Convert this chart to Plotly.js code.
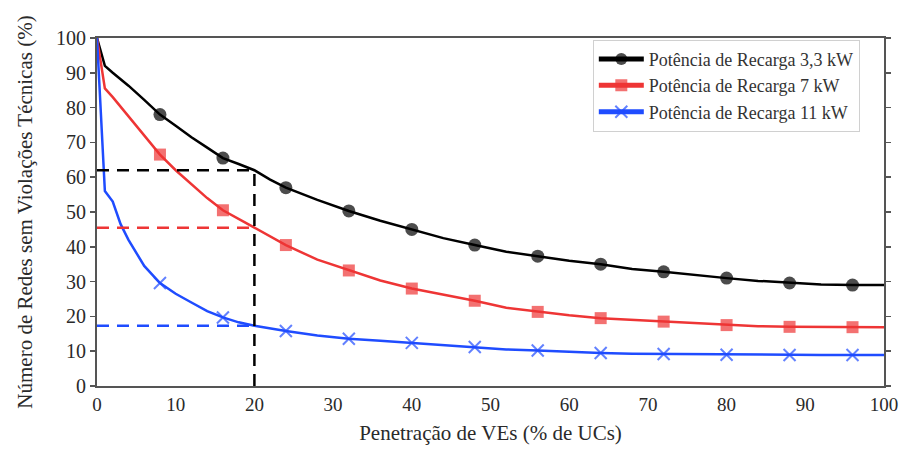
<!DOCTYPE html>
<html>
<head>
<meta charset="utf-8">
<script src="https://cdn.plot.ly/plotly-3.0.1.min.js"></script>
<style>html,body{margin:0;padding:0;background:#fff;}#chart{width:904px;height:449px;}</style>
</head>
<body>
<div id="chart"></div>
<script>
// Penetração de VEs (% de UCs)
const penetracao = [0, 1, 2, 3, 4, 6, 8, 10, 12, 14, 16, 18, 20, 22, 24, 28, 32, 36, 40, 44, 48, 52, 56, 60, 64, 68, 72, 76, 80, 84, 88, 92, 96, 100];
const redes33kW = [100, 92, 90, 88.2, 86.3, 82.2, 78, 74.8, 71.5, 68.5, 65.5, 63.8, 62, 59.3, 57, 53.5, 50.3, 47.5, 45, 42.5, 40.5, 38.6, 37.3, 36, 35, 33.6, 32.8, 31.8, 31, 30.2, 29.6, 29.2, 29, 29];
const redes7kW = [100, 85.5, 83, 80.3, 77.5, 72, 66.5, 62, 58, 54, 50.5, 48, 45.5, 42.8, 40.5, 36.3, 33.2, 30.3, 28, 26.3, 24.5, 22.5, 21.3, 20.3, 19.5, 19, 18.5, 18, 17.5, 17.2, 17, 17, 16.9, 16.9];
const redes11kW = [100, 56, 53, 46.5, 42, 34.5, 29.6, 26.5, 24, 21.5, 19.7, 18.3, 17.3, 16.5, 15.8, 14.5, 13.6, 13, 12.4, 11.8, 11.2, 10.5, 10.2, 9.8, 9.5, 9.3, 9.2, 9.1, 9, 8.9, 8.9, 8.9, 8.9, 8.9];
const serieNomes = ["Potência de Recarga 3,3 kW", "Potência de Recarga 7 kW", "Potência de Recarga 11 kW"];
// Reference reading at 20 % penetration
const refX = 20;
const refY = [62, 45.5, 17.3];
const xTicks = [0, 10, 20, 30, 40, 50, 60, 70, 80, 90, 100];
const yTicks = [0, 10, 20, 30, 40, 50, 60, 70, 80, 90, 100];

const colors = ["#000000", "#ee3535", "#1f4cff"];
const symbols = ["circle", "square", "x-thin-open"];
const sizes = [13, 12, 12];
const series = [redes33kW, redes7kW, redes11kW];

function markerSizes(sz) {
  return penetracao.map(x => (x > 0 && x % 8 === 0) ? sz : 0);
}

const traces = series.map((ys, i) => ({
  x: penetracao, y: ys, name: serieNomes[i], type: "scatter", mode: "lines+markers",
  line: {color: colors[i], width: 2.5},
  marker: {symbol: symbols[i], size: markerSizes(sizes[i]), color: colors[i],
           line: {color: colors[i], width: i === 2 ? 2 : 0}}
}));

const dash = "12px,8px";
const shapes = [];
refY.forEach((y, i) => {
  shapes.push({type: "line", xref: "x", yref: "y", x0: 0, x1: refX, y0: y, y1: y,
    line: {color: colors[i], width: 2.5, dash: dash}, layer: "above"});
});
shapes.push({type: "line", xref: "x", yref: "y", x0: refX, x1: refX, y0: 0, y1: refY[0],
  line: {color: "#000", width: 2.5, dash: dash}, layer: "above"});

const fam = "'Liberation Serif', 'Times New Roman', serif";
const font = {family: fam, color: "#2a2a2a", size: 19};

const layout = {
  width: 904, height: 449,
  margin: {l: 97, r: 20, t: 38, b: 63, pad: 0},
  paper_bgcolor: "#fff", plot_bgcolor: "#fff",
  font: font,
  showlegend: true,
  legend: {x: 0.63, y: 0.995, xanchor: "left", yanchor: "top", bgcolor: "#fff",
           bordercolor: "#d0d0d0", borderwidth: 1, itemsizing: "constant", itemwidth: 45,
           font: {family: fam, size: 18, color: "#333"}, tracegroupgap: 0},
  xaxis: {range: [0, 100], tickvals: xTicks, ticks: "", showgrid: false, zeroline: false,
          showline: true, linecolor: "#555", linewidth: 2, mirror: true,
          tickfont: {size: 19}, title: {text: "Penetração de VEs (% de UCs)", font: {size: 21}, standoff: 12}},
  yaxis: {range: [0, 100], tickvals: yTicks, ticks: "outside", ticklen: 5, tickwidth: 1.5, tickcolor: "#555",
          showgrid: false, zeroline: false, showline: true, linecolor: "#555", linewidth: 2, mirror: "ticks",
          tickfont: {size: 20}, title: {text: "Número de Redes sem Violações Técnicas (%)", font: {size: 21}, standoff: 18}},
  shapes: shapes
};

Plotly.newPlot("chart", traces, layout, {staticPlot: true, displayModeBar: false});
</script>
</body>
</html>
